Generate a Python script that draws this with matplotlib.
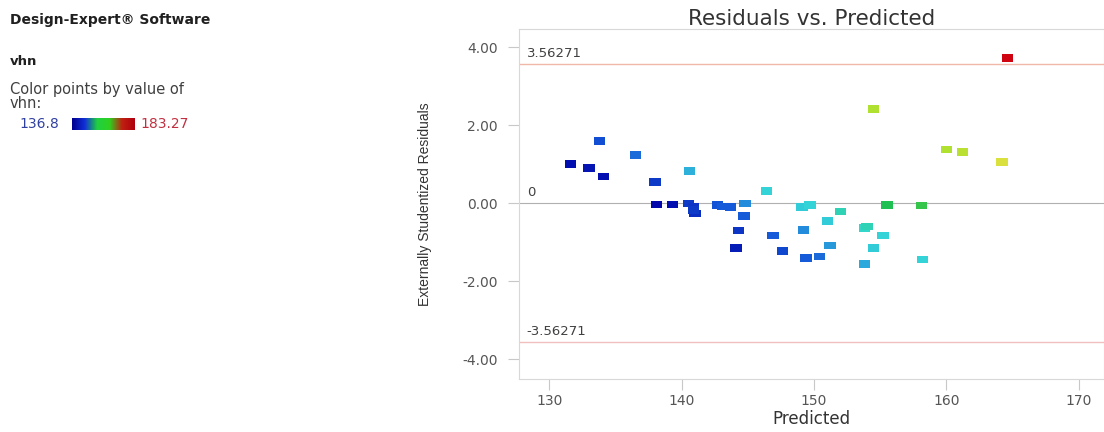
import matplotlib
matplotlib.use("Agg")
import matplotlib.pyplot as plt
import numpy as np
from matplotlib.colors import LinearSegmentedColormap, Normalize

plt.rcParams['font.family'] = ['DejaVu Sans']

# predicted vhn, externally studentized residuals, actual vhn (used for colour)
predicted = [131.6, 133.0, 133.8, 134.1, 136.5, 138.0, 138.1, 139.3, 140.6,
             140.5, 140.9, 141.0, 140.9, 142.7, 143.1, 143.7, 144.8, 144.7,
             144.3, 144.1, 146.4, 146.9, 147.6, 149.1, 149.7, 149.2, 149.4,
             150.4, 152.0, 151.0, 151.2, 153.8, 154.0, 155.2, 154.5, 153.8,
             155.5, 158.1, 158.2, 154.5, 160.0, 161.2, 164.2, 164.6]
residuals = [1.00, 0.90, 1.59, 0.69, 1.23, 0.54, -0.03, -0.03, 0.82,
             -0.02, -0.08, -0.27, -0.18, -0.05, -0.08, -0.10, -0.02, -0.33,
             -0.70, -1.15, 0.31, -0.83, -1.23, -0.10, -0.05, -0.69, -1.41,
             -1.38, -0.21, -0.46, -1.08, -0.64, -0.60, -0.83, -1.15, -1.56,
             -0.05, -0.07, -1.44, 2.41, 1.38, 1.31, 1.05, 3.72]
vhn = [138.0, 138.5, 143.0, 138.0, 145.0, 141.5, 137.5, 138.0, 150.0,
       141.5, 141.0, 140.5, 141.5, 143.5, 144.0, 144.0, 147.0, 144.0,
       141.0, 139.0, 154.0, 144.0, 142.5, 153.0, 154.0, 147.0, 144.0,
       145.0, 156.0, 153.0, 148.0, 155.0, 156.0, 154.0, 153.0, 149.0,
       160.0, 161.0, 154.0, 167.0, 167.0, 168.0, 171.0, 183.0]
vhn_min, vhn_max = 136.8, 183.27
limit = 3.56271
y_ticks = [-4, -2, 0, 2, 4]
x_ticks = [130, 140, 150, 160, 170]

cmap = LinearSegmentedColormap.from_list('de', [
    (0.0, '#0000a8'), (0.15, '#1458d8'), (0.26, '#2ca8dc'), (0.38, '#34d8d8'),
    (0.50, '#20c050'), (0.65, '#b0e030'), (0.75, '#e0e040'),
    (1.0, '#d00010')])
bar_cmap = LinearSegmentedColormap.from_list('bar', [
    '#000090', '#1030d8', '#20d040', '#30d020', '#c02010', '#b00010'])
norm = Normalize(vhn_min, vhn_max)

fig = plt.figure(figsize=(11.04, 4.32), dpi=100)

# left info panel
fig.text(0.009, 0.954, 'Design-Expert\u00ae Software', fontsize=10, fontweight='bold',
         va='center', color='#202020')
fig.text(0.009, 0.857, 'vhn', fontsize=9.5, fontweight='bold', va='center', color='#202020')
fig.text(0.009, 0.776, 'Color points by value of\nvhn:', fontsize=10.5, va='center',
         color='#404040', linespacing=0.9)
fig.text(0.018, 0.713, '136.8', fontsize=10, va='center', color='#3040a0')
fig.text(0.127, 0.713, '183.27', fontsize=10, va='center', color='#c03040')
cax = fig.add_axes([0.065, 0.699, 0.057, 0.028])
cax.imshow(np.linspace(0, 1, 100)[None, :], aspect='auto', cmap=bar_cmap)
cax.set_xticks([])
cax.set_yticks([])
for s in cax.spines.values():
    s.set_visible(False)

ax = fig.add_axes([0.470, 0.1227, 0.530, 0.810])
ax.set_xlim(127.7, 171.9)
ax.set_ylim(-4.51, 4.46)

ax.axhline(limit, color='#f0b8a8', lw=1.0, zorder=1)
ax.axhline(-limit, color='#f0c0c0', lw=1.0, zorder=1)
ax.axhline(0, color='#b0b0b0', lw=0.8, zorder=1)
ax.text(128.3, limit + 0.1, '3.56271', fontsize=9.5, color='#404040', va='bottom')
ax.text(128.3, 0.1, '0', fontsize=9.5, color='#404040', va='bottom')
ax.text(128.3, -limit + 0.1, '-3.56271', fontsize=9.5, color='#404040', va='bottom')

rect = [(-1, -0.62), (1, -0.62), (1, 0.62), (-1, 0.62), (-1, -0.62)]
ax.scatter(predicted, residuals, c=vhn, cmap=cmap, norm=norm, marker=rect,
           s=70, linewidths=0, zorder=3)

ax.set_xticks(x_ticks)
ax.set_yticks(y_ticks)
ax.set_yticklabels([f'{v:.2f}' for v in y_ticks])
ax.tick_params(colors='#c8c8c8', labelcolor='#555555', labelsize=10, length=8, width=0.8)
ax.tick_params(axis='y', pad=7)
ax.tick_params(axis='x', pad=3)
for s in ax.spines.values():
    s.set_color('#d8d8d8')

ax.set_title('Residuals vs. Predicted', fontsize=15.5, color='#333333', pad=3)
ax.set_xlabel('Predicted', fontsize=12, color='#333333', labelpad=1)
ax.set_ylabel('Externally Studentized Residuals', fontsize=10, color='#333333',
              family=['Liberation Sans', 'DejaVu Sans'], labelpad=22)

fig.savefig('out.png', dpi=100)
